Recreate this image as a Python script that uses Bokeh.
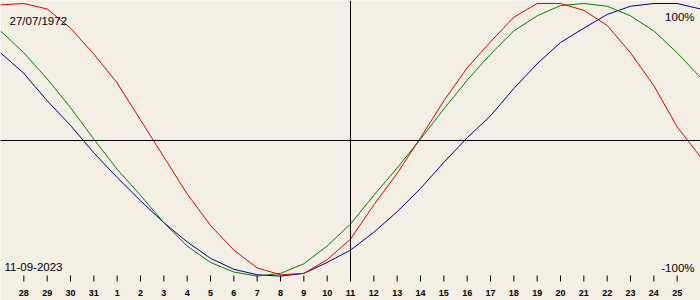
from bokeh.plotting import figure
from bokeh.models import Range1d, Span, Label, ColumnDataSource
from bokeh.embed import file_html
from bokeh.resources import INLINE
from bokeh.core.properties import value

# ---- data (day index 0 = 27 Aug 2023, 15 = 11 Sep 2023) ----
days = list(range(31))
physical = [99, 100, 96, 82, 63, 42, 15, -12, -39, -62, -80, -93, -98, -97, -87, -72,
            -47, -24, 2, 29, 53, 72, 90, 100, 100, 95, 84, 64, 40, 10, -12]
emotional = [80, 64, 45, 24, 1, -21, -40, -60, -77, -89, -96, -99, -97, -90, -77, -61,
             -40, -20, 1, 23, 44, 63, 80, 91, 98.5, 100, 98, 91, 80, 64, 46]
intellectual = [64, 49, 29, 11, -9, -27, -44, -60, -74, -86, -94, -98, -99, -97, -89, -80,
                -67, -52, -35, -16, 2, 18, 38, 56, 71.5, 82, 92, 98, 100, 100, 96]
tick_days = list(range(1, 30))
tick_labels = ["28", "29", "30", "31"] + [str(i) for i in range(1, 26)]
birth_label = "27/07/1972"
date_label = "11-09-2023"
top_label = "100%"
bottom_label = "-100%"
today_index = 15

W, H = 700, 300
SCALE = 1.37      # pixels per percent
ZERO_PX = 140     # zero line pixel row


def px_to_v(py):
    return (ZERO_PX - py) / SCALE


BG = "#F3EFE4"

p = figure(width=W, height=H, output_backend="svg", toolbar_location=None,
           x_range=Range1d(0, 30), y_range=Range1d(px_to_v(H), px_to_v(0)),
           min_border=0, min_border_left=0, min_border_right=0,
           min_border_top=0, min_border_bottom=0)
p.background_fill_color = BG
p.border_fill_color = BG
p.outline_line_color = None
p.axis.visible = False
p.grid.visible = False

# zero line and today's line
p.add_layout(Span(location=0, dimension="width", line_color="black", line_width=1))
p.segment(x0=[today_index], x1=[today_index], y0=[px_to_v(0)], y1=[px_to_v(280)],
          line_color="black", line_width=1)

# curves
src = ColumnDataSource(dict(d=days, p=physical, e=emotional, i=intellectual))
p.line("d", "i", source=src, line_color="#000080", line_width=1)
p.line("d", "e", source=src, line_color="#008000", line_width=1)
p.line("d", "p", source=src, line_color="#E00000", line_width=1)

# day ticks
tsrc = ColumnDataSource(dict(x=tick_days, t=tick_labels,
                             y0=[px_to_v(275)] * len(tick_days),
                             y1=[px_to_v(281)] * len(tick_days),
                             yt=[px_to_v(292)] * len(tick_days)))
p.segment(x0="x", x1="x", y0="y0", y1="y1", source=tsrc, line_color="black", line_width=1)
p.text(x="x", y="yt", text="t", source=tsrc, text_align="center", text_baseline="alphabetic",
       text_font=value("Liberation Sans"), text_font_size="9px", text_font_style="bold",
       text_color="black")

font = "Liberation Sans"
for txt, x, y, align in [(birth_label, 9, H - 20.7, "left"),
                         (date_label, 4, H - 266.5, "left"),
                         (top_label, 694, H - 16, "right"),
                         (bottom_label, 694, H - 267, "right")]:
    p.add_layout(Label(x=x, y=y, x_units="screen", y_units="screen", text=txt,
                       text_align=align, text_baseline="alphabetic",
                       text_font=font, text_font_size="11.5px", text_color="black"))

open("out.html", "w").write(file_html(p, INLINE))
